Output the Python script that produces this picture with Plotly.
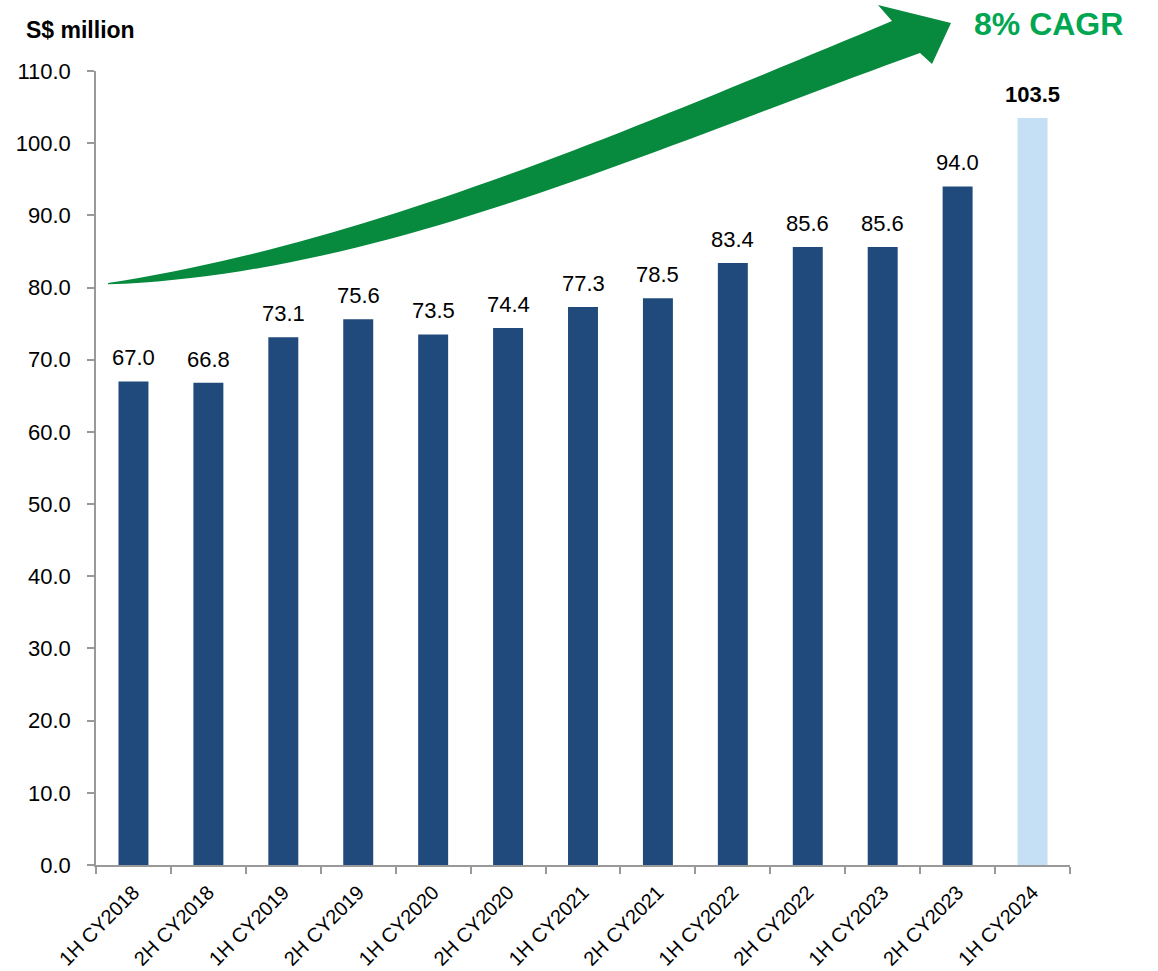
import numpy as np
import plotly.graph_objects as go

categories = ["1H CY2018", "2H CY2018", "1H CY2019", "2H CY2019", "1H CY2020",
              "2H CY2020", "1H CY2021", "2H CY2021", "1H CY2022", "2H CY2022",
              "1H CY2023", "2H CY2023", "1H CY2024"]
values = [67.0, 66.8, 73.1, 75.6, 73.5, 74.4, 77.3, 78.5, 83.4, 85.6, 85.6, 94.0, 103.5]
bar_colors = ["#214A7C"] * 12 + ["#C5E0F4"]
y_ticks = [0, 10, 20, 30, 40, 50, 60, 70, 80, 90, 100, 110]

# body margin removed via post_script, so the figure fills the 1158x971 viewport
W, H = 1158, 971
PX0, PX1, PY0, PY1 = 96, 1070, 71, 865          # plot area in page pixels
L, R, T, B = PX0, W - PX1, PY0, H - PY1
PW, PH = PX1 - PX0, PY1 - PY0
FONT = "Liberation Sans, Arial, sans-serif"

fig = go.Figure()
fig.add_trace(go.Bar(x=categories, y=values, marker=dict(color=bar_colors, line=dict(width=0)),
                     hoverinfo="x+y"))

# data labels
for i, (c, v) in enumerate(zip(categories, values)):
    last = i == len(values) - 1
    fig.add_annotation(x=c, y=v, text=(f"<b>{v:.1f}</b>" if last else f"{v:.1f}"),
                       showarrow=False, yanchor="bottom", yshift=9,
                       font=dict(family=FONT, size=22, color="black"))

# arrow (decoration) in page-pixel coordinates -> paper
def px(x):
    return (x - PX0) / PW

def py(y):
    return (PY1 - y) / PH

up_pts = np.array([(108, 283), (200, 266), (380, 218), (580, 148), (700, 100), (780, 68), (892, 21)], float)
lo_pts = np.array([(108, 283), (200, 279), (380, 242), (580, 175), (700, 137), (780, 107), (920, 52)], float)
cu = np.polyfit(up_pts[:, 0], up_pts[:, 1], 3)
cl = np.polyfit(lo_pts[:, 0], lo_pts[:, 1], 3)
xu = np.linspace(108, 892, 50)
xl = np.linspace(920, 108, 50)
pts = [(x, np.polyval(cu, x)) for x in xu]
pts += [(878, 5), (951, 23), (932, 64)]
pts += [(x, np.polyval(cl, x)) for x in xl]
path = "M " + " L ".join(f"{px(x):.5f},{py(y):.5f}" for x, y in pts) + " Z"
fig.add_shape(type="path", xref="paper", yref="paper", path=path,
              fillcolor="#078A3E", line=dict(width=0), layer="above")

fig.add_annotation(xref="paper", yref="paper", x=px(1048), y=py(24), text="<b>8% CAGR</b>",
                   showarrow=False, xanchor="center", yanchor="middle", borderpad=0,
                   font=dict(family=FONT, size=32, color="#00A651"))
fig.add_annotation(xref="paper", yref="paper", x=px(24), y=py(30), text="<b>S$ million</b>",
                   showarrow=False, xanchor="left", yanchor="middle",
                   font=dict(family=FONT, size=23, color="black"))

fig.update_layout(
    width=W, height=H, margin=dict(l=L, r=R, t=T, b=B, autoexpand=False),
    paper_bgcolor="white", plot_bgcolor="white", showlegend=False,
    bargap=0.6, font=dict(family=FONT, color="black"),
    xaxis=dict(type="category", tickson="boundaries", ticks="outside", ticklen=7,
               tickcolor="#999999", tickwidth=1.5, showline=True, linecolor="#999999",
               linewidth=1.5, tickangle=-45, tickfont=dict(family=FONT, size=20, color="black"),
               showgrid=False, range=[-0.5, 12.5], ticklabelstandoff=6),
    yaxis=dict(range=[0, 110], tickvals=y_ticks, ticktext=[f"{t:.1f}" for t in y_ticks],
               ticks="outside", ticklen=7, tickcolor="#999999", tickwidth=1.5,
               showline=True, linecolor="#999999", linewidth=1.5, showgrid=False,
               zeroline=False, tickfont=dict(family=FONT, size=22, color="black"),
               ticklabelstandoff=12),
)

fig.write_html("out.html", config={"displayModeBar": False},
               post_script="document.body.style.margin='0';document.body.style.overflow='hidden';")
